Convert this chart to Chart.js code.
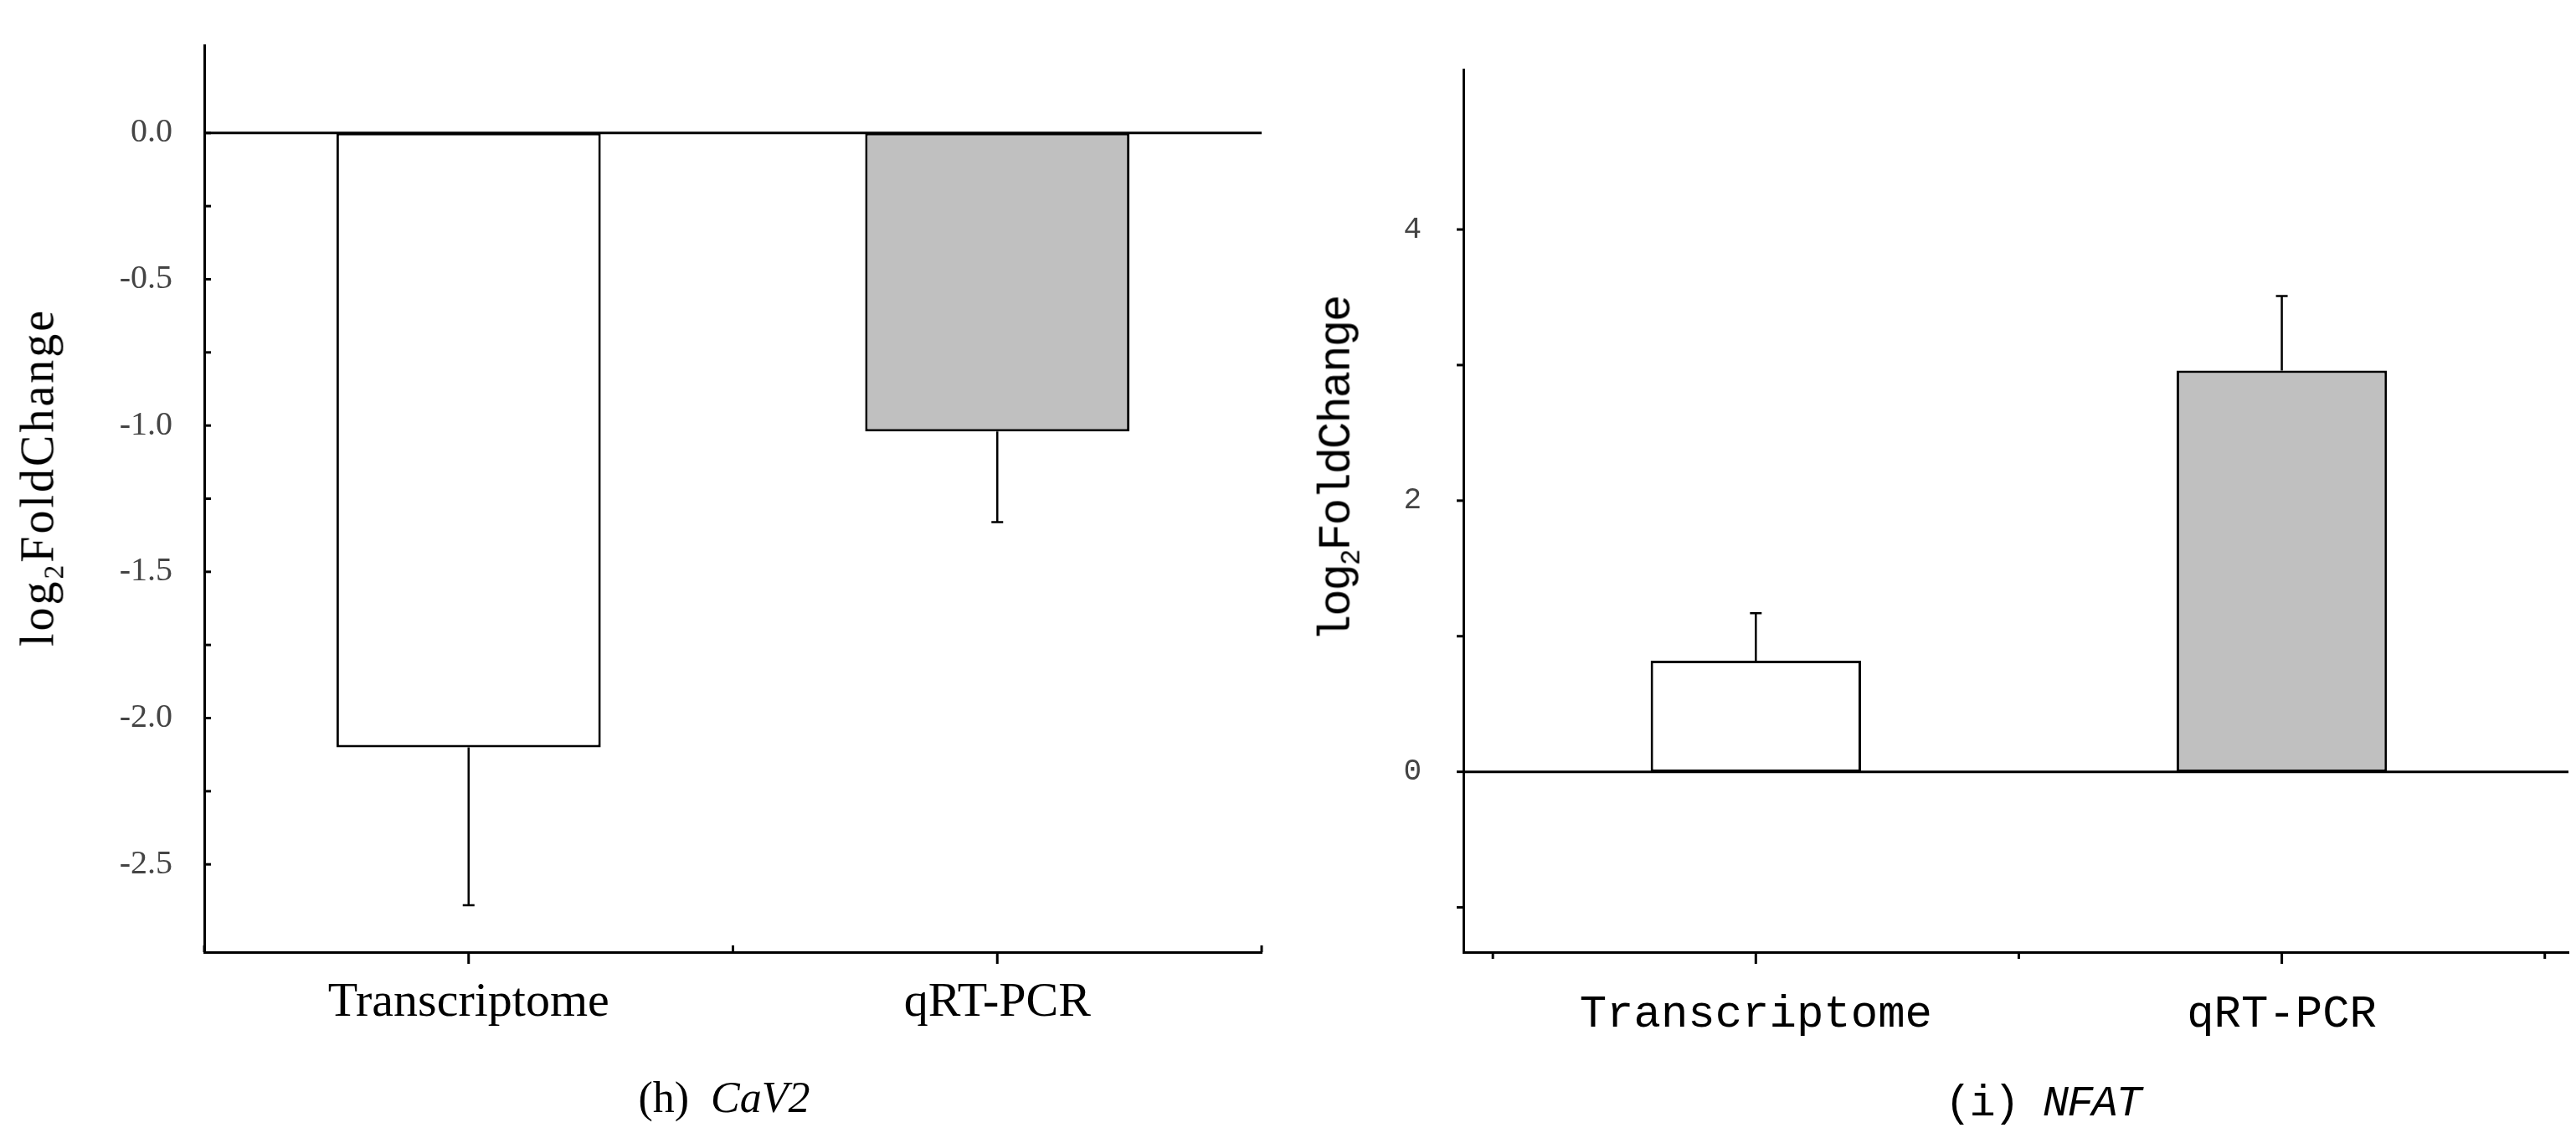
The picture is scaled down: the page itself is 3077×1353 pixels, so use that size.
<!DOCTYPE html>
<html><head><meta charset="utf-8">
<script src="https://cdn.jsdelivr.net/npm/chart.js@4"></script>
<style>
body{margin:0;background:#fff;width:3077px;height:1353px;position:relative;overflow:hidden}
.box{position:absolute;top:0;height:1353px}
.ytitle{position:absolute;transform:translate(-50%,-50%) rotate(-90deg);white-space:nowrap;color:#000}
.cap{position:absolute;transform:translate(-50%,-50%);white-space:nowrap;color:#000}
sub{font-size:0.6em}
</style></head><body>
<div class="box" style="left:0;width:1540px"><canvas id="c1"></canvas></div>
<div class="box" style="left:1540px;width:1537px"><canvas id="c2"></canvas></div>
<div class="ytitle" style="left:48px;top:570px;font:56px 'Liberation Serif';letter-spacing:3px">log<sub>2</sub>FoldChange</div>
<div class="ytitle" style="left:1600px;top:560px;font:54px 'Liberation Mono';letter-spacing:-2px">log<sub>2</sub>FoldChange</div>
<div class="cap" style="left:865px;top:1310px;font:52px 'Liberation Serif'">(h)&nbsp;&nbsp;<i>CaV2</i></div>
<div class="cap" style="left:2440px;top:1318px;font:52px 'Liberation Mono';letter-spacing:-2px">(i)&nbsp;<i>NFAT</i></div>
<script>
const categories = ["Transcriptome", "qRT-PCR"];
const cav2Values = [-2.10, -1.02];
const cav2Errors = [-2.64, -1.33];
const nfatValues = [0.82, 2.96];
const nfatErrors = [1.17, 3.51];
const barColors = ["#ffffff", "#c0c0c0"];

const decor = {
  id:'decor',
  afterDatasetsDraw(chart, args, o){
    const {ctx, chartArea:a, scales:{x,y}} = chart;
    ctx.save();
    ctx.strokeStyle='#000';
    ctx.lineWidth=3;
    const y0=y.getPixelForValue(0);
    ctx.beginPath();ctx.moveTo(a.left,y0);ctx.lineTo(a.right,y0);ctx.stroke();
    ctx.lineWidth=2.5;
    o.vals.forEach((v,i)=>{
      const px=x.getPixelForValue(i), p1=y.getPixelForValue(v), p2=y.getPixelForValue(o.errs[i]);
      ctx.beginPath();ctx.moveTo(px,p1);ctx.lineTo(px,p2);
      ctx.moveTo(px-7,p2);ctx.lineTo(px+7,p2);ctx.stroke();
    });
    ctx.lineWidth=3;
    y.ticks.forEach(t=>{
      const py=y.getPixelForValue(t.value);
      ctx.beginPath();
      if(o.yIn){ctx.moveTo(a.left,py);ctx.lineTo(a.left+8,py);}
      else{ctx.moveTo(a.left,py);ctx.lineTo(a.left-8,py);}
      ctx.stroke();
    });
    o.xTicks.forEach(v=>{
      const px=x.getPixelForValue(v);
      const major=Number.isInteger(v);
      ctx.beginPath();
      if(major||!o.xMinorUp){ctx.moveTo(px,a.bottom);ctx.lineTo(px,a.bottom+(major?14:8));}
      else{ctx.moveTo(px,a.bottom);ctx.lineTo(px,a.bottom-8);}
      ctx.stroke();
    });
    ctx.restore();
  }
};

function make(id, vals, errs, cfg){
  return new Chart(document.getElementById(id),{
    type:'bar',
    data:{datasets:[{data:vals.map((v,i)=>({x:i,y:v})),backgroundColor:barColors,borderColor:'#000',borderWidth:3,borderSkipped:false,
      barPercentage:cfg.barPct,categoryPercentage:1}]},
    options:{
      responsive:true,maintainAspectRatio:false,animation:false,
      layout:{padding:cfg.pad},
      plugins:{legend:{display:false},tooltip:{enabled:false},decor:{vals,errs,yIn:cfg.yIn,xTicks:[-0.5,0,0.5,1,1.5],xMinorUp:cfg.xMinorUp}},
      scales:{
        x:{type:'linear',min:cfg.xmin,max:cfg.xmax,offset:false,
          afterFit(s){s.height=100;},
          afterBuildTicks(s){s.ticks=[{value:0},{value:1}];},
          grid:{display:false,offset:false},border:{display:true,color:'#000',width:3},
          ticks:{padding:cfg.xPad,font:cfg.xFont,color:'#000',callback:v=>categories[v]??'',autoSkip:false,maxRotation:0}},
        y:{min:cfg.ymin,max:cfg.ymax,
          afterFit(s){s.width=150;},
          afterBuildTicks(s){s.ticks=s.ticks.filter(t=>Math.abs(t.value/cfg.step-Math.round(t.value/cfg.step))<1e-6);},
          grid:{display:false},border:{display:true,color:'#000',width:3},
          ticks:{stepSize:cfg.step,padding:cfg.yPad,font:cfg.yFont,color:'#444',
            callback:cfg.fmt}}
      }
    },
    plugins:[decor]
  });
}

make('c1',cav2Values,cav2Errors,{
  barPct:0.5,xmin:-0.5,xmax:1.5,ymin:-2.8,ymax:0.3,step:0.25,yIn:true,xMinorUp:true,
  pad:{left:94,right:33,top:26,bottom:116},xPad:18,yPad:30,
  xFont:{family:'Liberation Serif',size:58},yFont:{family:'Liberation Serif',size:40},
  fmt:v=>Math.abs(v*2-Math.round(v*2))<1e-6?v.toFixed(1):''
});
make('c2',nfatValues,nfatErrors,{
  barPct:0.4,xmin:-0.556,xmax:1.545,ymin:-1.33,ymax:5.18,step:1,yIn:false,xMinorUp:false,
  pad:{left:58,right:9,top:83,bottom:116},xPad:34,yPad:42,
  xFont:{family:'Liberation Mono',size:54},yFont:{family:'Liberation Mono',size:36},
  fmt:v=>(Math.round(v)%2===0)?String(v):''
});
</script></body></html>
